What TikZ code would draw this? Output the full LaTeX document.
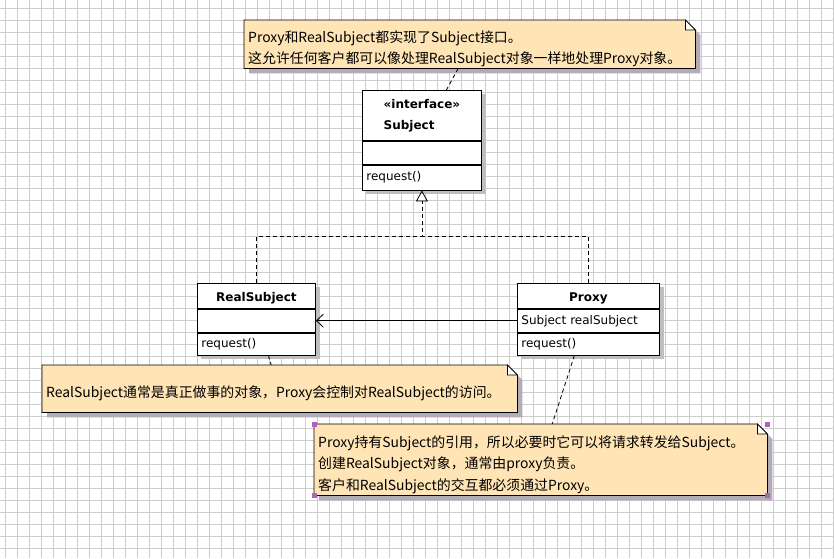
\documentclass[tikz,border=0pt]{standalone}
\usepackage{fontspec}
\newfontfamily\cjkfont{Noto Sans CJK SC}
\newfontfamily\umlfont{DejaVu Sans}
\usetikzlibrary{arrows.meta, positioning, calc}
\pgfdeclarelayer{bg}
\pgfdeclarelayer{back}
\pgfsetlayers{bg,back,main}
\definecolor{notefill}{RGB}{255,228,181}
\definecolor{noteshade}{RGB}{178,172,184}
\definecolor{boxshade}{RGB}{190,190,190}
\definecolor{gridcol}{RGB}{205,205,205}
\definecolor{handlecol}{RGB}{176,96,192}

\begin{document}
\begin{tikzpicture}[
x=1pt, y=-1pt,
classpart/.style={draw, fill=white, line width=0.8pt, inner xsep=4pt, inner ysep=0pt, align=left, font=\umlfont\fontsize{12}{14}\selectfont},
classhead/.style={classpart, font=\umlfont\bfseries\fontsize{12}{21}\selectfont,
  execute at begin node={\rule{0pt}{13.5pt}}},
notetext/.style={inner xsep=4pt, inner ysep=0pt, align=left, anchor=north west, font=\cjkfont\fontsize{13.9}{21.5}\selectfont,
  execute at begin node={\rule{0pt}{21pt}}},
noteedge/.style={draw, line width=0.8pt, fill=notefill},
dashline/.style={line width=0.8pt, dash pattern=on 4pt off 3pt},
realize/.style={dashline, -{Triangle[open, length=11pt, width=12pt]}},
assoc/.style={line width=0.8pt, -{Straight Barb[length=7pt, width=13pt]}},
gridline/.style={gridcol, line width=0.6pt}
]

\useasboundingbox (0,0) rectangle (834,558);

% ---------- GRID ----------

\begin{pgfonlayer}{bg}
\fill[white] (0,0) rectangle (834,558);
\foreach \gx in {5,17,...,833} \draw[gridline] (\gx,0) -- (\gx,558);
\foreach \gy in {8,20,...,557} \draw[gridline] (0,\gy) -- (834,\gy);
\end{pgfonlayer}

% ---------- CLASSES ----------

\node[classhead, minimum width=119pt, minimum height=50pt, anchor=north west] (subject) at (362,90)
{«interface»\\Subject};
\node[classpart, text width=111pt, minimum height=23pt, below=0pt of subject] (subjectattr) {};
\node[classpart, text width=111pt, minimum height=25pt, below=0pt of subjectattr] (subjectops) {request()};

\node[classhead, minimum width=118pt, minimum height=25pt, anchor=north west] (real) at (197,283)
{RealSubject};
\node[classpart, text width=110pt, minimum height=23pt, below=0pt of real] (realattr) {};
\node[classpart, text width=110pt, minimum height=22pt, below=0pt of realattr] (realops) {request()};

\node[classhead, minimum width=142pt, minimum height=25pt, anchor=north west] (proxy) at (517,283)
{Proxy};
\node[classpart, text width=134pt, minimum height=23pt, below=0pt of proxy] (proxyattr) {Subject realSubject};
\node[classpart, text width=134pt, minimum height=22pt, below=0pt of proxyattr] (proxyops) {request()};

% ---------- NOTES ----------

\node[notetext, text width=443pt, minimum height=48pt] (summary) at (244,20)
{Proxy和RealSubject都实现了Subject接口。\\
这允许任何客户都可以像处理RealSubject对象一样地处理Proxy对象。};

\node[notetext, text width=467pt, minimum height=47pt] (realnote) at (42,365)
{RealSubject通常是真正做事的对象，Proxy会控制对RealSubject的访问。};

\node[notetext, text width=445pt, minimum height=71pt] (proxynote) at (314,424)
{Proxy持有Subject的引用，所以必要时它可以将请求转发给Subject。\\
创建RealSubject对象，通常由proxy负责。\\
客户和RealSubject的交互都必须通过Proxy。};

\begin{pgfonlayer}{back}
\foreach \n in {summary,realnote,proxynote} {
  \fill[noteshade] ([xshift=5pt,yshift=-5pt]\n.north west) -- ([xshift=-5pt,yshift=-5pt]\n.north east)
    -- ([xshift=5pt,yshift=-15pt]\n.north east) -- ([xshift=5pt,yshift=-5pt]\n.south east)
    -- ([xshift=5pt,yshift=-5pt]\n.south west) -- cycle;
  \draw[noteedge] (\n.north west) -- ([xshift=-10pt]\n.north east) -- ([yshift=-10pt]\n.north east)
    -- (\n.south east) -- (\n.south west) -- cycle;
  \draw[line width=0.8pt, fill=white] ([xshift=-10pt]\n.north east) -- ([xshift=-10pt,yshift=-10pt]\n.north east)
    -- ([yshift=-10pt]\n.north east) -- cycle;
}
\foreach \top/\bot in {subject/subjectops,real/realops,proxy/proxyops}
  \fill[boxshade] ([xshift=4pt,yshift=-4pt]\top.north west) rectangle ([xshift=4pt,yshift=-4pt]\bot.south east);
\end{pgfonlayer}

\foreach \a in {north west,north east,south west,south east}
  \fill[handlecol] ([xshift=-2.5pt,yshift=-2.5pt]proxynote.\a) rectangle ([xshift=2.5pt,yshift=2.5pt]proxynote.\a);

% ---------- ARROWS ----------

\coordinate (fork) at ([yshift=-46pt]subjectops.south);
\draw[realize] (real.north) |- (fork) -- (subjectops.south);
\draw[dashline] (proxy.north) |- (fork);

\draw[assoc] (proxyattr.west) -- (realattr.east);

\draw[dashline] ([xshift=-11.5pt]summary.south) -- ([xshift=24.5pt]subject.north);
\draw[dashline] ([xshift=12pt]realops.south) -- ([xshift=-8.5pt]realnote.north);
\draw[dashline] ([xshift=-14pt]proxyops.south) -- ([xshift=11.5pt]proxynote.north);

\end{tikzpicture}
\end{document}
